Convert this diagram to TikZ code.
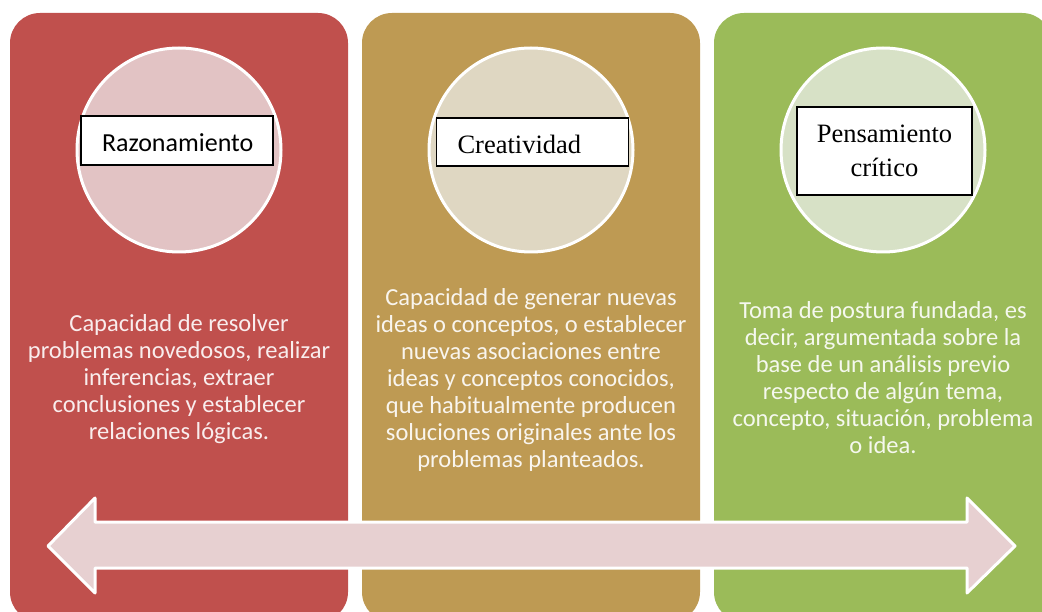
\documentclass[tikz,border=0pt]{standalone}
\usepackage{fontspec}
\setmainfont{Carlito}
\newfontfamily\timesfont{Liberation Serif}
\usetikzlibrary{positioning}
\definecolor{rojo}{HTML}{C0504D}
\definecolor{ocre}{HTML}{BE9A53}
\definecolor{verde}{HTML}{9BBB59}
\definecolor{rojoclaro}{HTML}{E2C3C4}
\definecolor{ocreclaro}{HTML}{DFD7C2}
\definecolor{verdeclaro}{HTML}{D7E1C6}
\definecolor{flecha}{HTML}{E7D0D1}
\begin{document}
\begin{tikzpicture}[x=1pt,y=-1pt,node distance=352pt,
	panel/.style={rectangle,rounded corners=30pt,minimum width=338pt,minimum height=609pt,draw=none},
	disco/.style={circle,draw=white,line width=3pt,minimum size=204pt},
	etiqueta/.style={rectangle,draw=black,line width=1.5pt,fill=white,inner ysep=0pt},
	texto/.style={align=center,font=\fontsize{24.5}{27}\selectfont}]
	\useasboundingbox (0,0) rectangle (1042,612);
	\node[panel,fill=rojo]		(P1) at (179,317.5)	{};
	\node[panel,fill=ocre]		(P2) [right of=P1]	{};
	\node[panel,fill=verde]		(P3) [right of=P2]	{};
	\node[disco,fill=rojoclaro]	(C1) at (179,150)	{};
	\node[disco,fill=ocreclaro]	(C2) [right of=C1]	{};
	\node[disco,fill=verdeclaro]	(C3) [right of=C2]	{};
	\node[etiqueta,text width=150pt,inner xsep=21pt,align=left,text height=36pt,text depth=13pt,
		font=\fontsize{26}{30}\selectfont] (L1) at (177,140.5) {Razonamiento};
	\node[etiqueta,text width=150pt,inner xsep=21pt,align=left,text height=36pt,text depth=12pt,
		font=\timesfont\fontsize{26.5}{30}\selectfont] (L2) at (532.5,142) {Creatividad};
	\node[etiqueta,text width=155pt,inner xsep=10pt,align=center,minimum height=88pt,
		font=\timesfont\fontsize{26.5}{34}\selectfont] (L3) at (884.5,151) {Pensamiento\\ crítico};
	\node[texto,text=white!90!rojo]	(T1) at (179,379)	{Capacidad de resolver\\ problemas novedosos, realizar\\ inferencias, extraer\\ conclusiones y establecer\\ relaciones lógicas.};
	\node[texto,text=white!90!ocre]	(T2) at (531,380)	{Capacidad de generar nuevas\\ ideas o conceptos, o establecer\\ nuevas asociaciones entre\\ ideas y conceptos conocidos,\\ que habitualmente producen\\ soluciones originales ante los\\ problemas planteados.};
	\node[texto,text=white!90!verde]	(T3) at (883,378)	{Toma de postura fundada, es\\ decir, argumentada sobre la\\ base de un análisis previo\\ respecto de algún tema,\\ concepto, situación, problema\\ o idea.};
	% flecha doble
	\draw[white,line width=3pt,fill=flecha,line join=round]
	(48,546) -- (95,498) -- (95,522) -- (967,522) -- (967,498) -- (1015,546)
	-- (967,593) -- (967,568) -- (95,568) -- (95,593) -- cycle;
\end{tikzpicture}
\end{document}
